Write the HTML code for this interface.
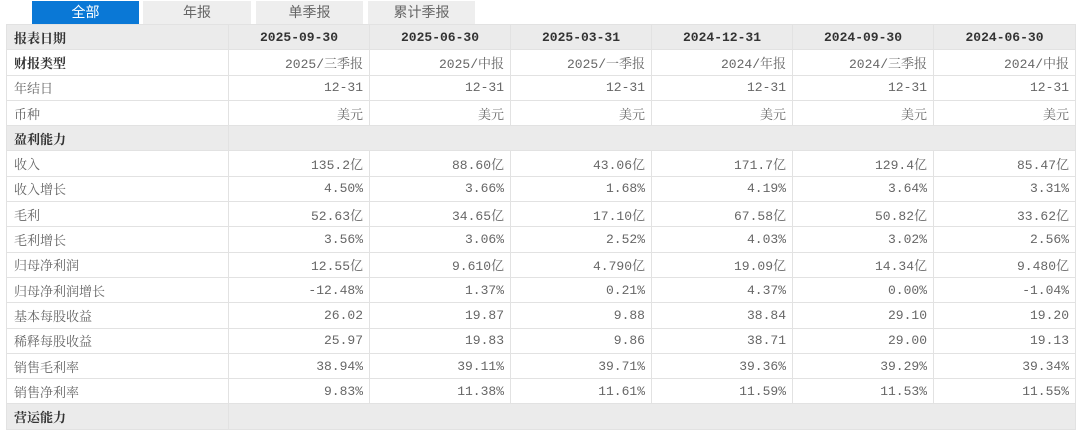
<!DOCTYPE html>
<html><head><meta charset="utf-8"><style>
body{margin:0;width:1080px;height:411px;overflow:hidden;background:#fff;font-family:"Liberation Mono","Noto Serif CJK SC",monospace;font-size:13px;color:#666}
.tabs{position:absolute;top:0;left:0}
.tab{position:absolute;top:1px;height:23px;line-height:23px;text-align:center;background:#eee;color:#666;font-size:14px;font-family:"Liberation Sans","Noto Sans CJK SC",sans-serif}
table{position:absolute;top:24px;left:6px;border-collapse:collapse;table-layout:fixed;width:1069px}
td{border:1px solid #e2e2e2;height:24.3px;padding:0 6px;text-align:right;white-space:nowrap;overflow:hidden}
td:first-child{text-align:left;padding-left:7px}
tr.h td{background:#ebebeb;color:#333;font-weight:bold;text-align:center}
tr.h td:first-child{text-align:left}
tr.s td{background:#ebebeb;color:#333;font-weight:bold}
tr.b td:first-child{color:#333;font-weight:bold}
</style></head><body>
<div class="tab" style="left:32px;width:107px;background:#0a78d6;color:#fff">全部</div>
<div class="tab" style="left:143px;width:108px">年报</div>
<div class="tab" style="left:256px;width:107px">单季报</div>
<div class="tab" style="left:368px;width:107px">累计季报</div>
<table>
<colgroup><col style="width:222px"><col style="width:141px"><col style="width:141px"><col style="width:141px"><col style="width:141px"><col style="width:141px"><col style="width:142px"></colgroup>
<tr class="h"><td>报表日期</td><td>2025-09-30</td><td>2025-06-30</td><td>2025-03-31</td><td>2024-12-31</td><td>2024-09-30</td><td>2024-06-30</td></tr>
<tr class="b"><td>财报类型</td><td>2025/三季报</td><td>2025/中报</td><td>2025/一季报</td><td>2024/年报</td><td>2024/三季报</td><td>2024/中报</td></tr>
<tr><td>年结日</td><td>12-31</td><td>12-31</td><td>12-31</td><td>12-31</td><td>12-31</td><td>12-31</td></tr>
<tr><td>币种</td><td>美元</td><td>美元</td><td>美元</td><td>美元</td><td>美元</td><td>美元</td></tr>
<tr class="s"><td>盈利能力</td><td colspan="6"></td></tr>
<tr><td>收入</td><td>135.2亿</td><td>88.60亿</td><td>43.06亿</td><td>171.7亿</td><td>129.4亿</td><td>85.47亿</td></tr>
<tr><td>收入增长</td><td>4.50%</td><td>3.66%</td><td>1.68%</td><td>4.19%</td><td>3.64%</td><td>3.31%</td></tr>
<tr><td>毛利</td><td>52.63亿</td><td>34.65亿</td><td>17.10亿</td><td>67.58亿</td><td>50.82亿</td><td>33.62亿</td></tr>
<tr><td>毛利增长</td><td>3.56%</td><td>3.06%</td><td>2.52%</td><td>4.03%</td><td>3.02%</td><td>2.56%</td></tr>
<tr><td>归母净利润</td><td>12.55亿</td><td>9.610亿</td><td>4.790亿</td><td>19.09亿</td><td>14.34亿</td><td>9.480亿</td></tr>
<tr><td>归母净利润增长</td><td>-12.48%</td><td>1.37%</td><td>0.21%</td><td>4.37%</td><td>0.00%</td><td>-1.04%</td></tr>
<tr><td>基本每股收益</td><td>26.02</td><td>19.87</td><td>9.88</td><td>38.84</td><td>29.10</td><td>19.20</td></tr>
<tr><td>稀释每股收益</td><td>25.97</td><td>19.83</td><td>9.86</td><td>38.71</td><td>29.00</td><td>19.13</td></tr>
<tr><td>销售毛利率</td><td>38.94%</td><td>39.11%</td><td>39.71%</td><td>39.36%</td><td>39.29%</td><td>39.34%</td></tr>
<tr><td>销售净利率</td><td>9.83%</td><td>11.38%</td><td>11.61%</td><td>11.59%</td><td>11.53%</td><td>11.55%</td></tr>
<tr class="s"><td>营运能力</td><td colspan="6"></td></tr>
</table>
</body></html>
